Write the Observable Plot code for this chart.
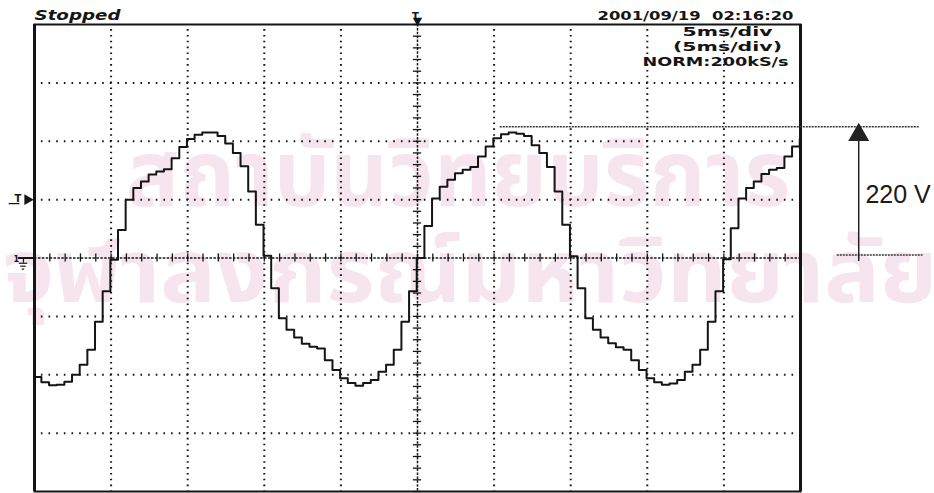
<!DOCTYPE html>
<html><head><meta charset="utf-8">
<script src="https://cdn.jsdelivr.net/npm/d3@7"></script>
<script src="https://cdn.jsdelivr.net/npm/@observablehq/plot@0.6"></script>
<style>body{margin:0;background:#fff}</style>
</head><body><div id="chart"></div>
<script>
// ---- data ----
const sampleStepMs = 0.5;      // staircase step duration
const firstSampleMs = -0.05;   // start time of first step
const voltage = [
  -204, -213, -218, -217, -212, -200, -183, -157, -109, -57,
  -3, 48, 100, 120, 131, 143, 148, 152, 171, 190, 204, 211, 215, 215, 209, 196, 180, 157, 114, 57,
  4, -52, -103, -123, -136, -147, -152, -155, -175, -192, -206, -214, -219, -214, -209, -195, -183, -157, -109, -57,
  0, 55, 102, 122, 134, 145, 151, 156, 174, 191, 205, 212, 215, 213, 209, 193, 180, 156, 114, 57,
  3, -52, -103, -123, -136, -146, -153, -157, -175, -192, -206, -213, -217, -215, -209, -195, -183, -157, -109, -57,
  -2, 51, 102, 120, 131, 144, 151, 154, 174, 191, 204
];
const timeGridMs = [5, 10, 15, 20, 30, 35, 40, 45];
const voltGrid = [-300, -200, -100, 100, 200, 300];
const centerTimeMs = 25;
const timeMinorMs = d3.range(0, 50.001, 1);
const voltMinor = d3.range(-400, 400.001, 20);
const headerLeft = "Stopped";
const headerRight = "2001/09/19  02:16:20";
const settings = ["5ms/div", "(5ms/div)", "NORM:200kS/s"];
const triggerLevel = 100;
const annotationLabel = "220 V";
const annotationVolts = 225;
const watermark = ["สถาบันวิทยบริการ", "จุฬาลงกรณ์มหาวิทยาลัย"];

const samples = voltage.map((v, i) => ({t: firstSampleMs + i * sampleStepMs, v}));
const ink = "#151515";
const hdrFont = "DejaVu Sans, sans-serif";
const wmFont = "Noto Sans Thai, Noto Sans, sans-serif";
const wmFill = "#f6e5ee";

const plot = Plot.plot({
  width: 934, height: 493,
  marginLeft: 34, marginRight: 134, marginTop: 24, marginBottom: 2,
  x: {domain: [0, 50], axis: null},
  y: {domain: [-400, 400], axis: null},
  style: {background: "#fff", overflow: "visible"},
  marks: [
    Plot.text([watermark[0]], {text: d => d, frameAnchor: "top-left", dx: 91, dy: 181, textAnchor: "start", lineAnchor: "bottom", fontSize: 92, fontWeight: "bold", fill: wmFill, fontFamily: wmFont}),
    Plot.text([watermark[1]], {text: d => d, frameAnchor: "top-left", dx: -32, dy: 277, textAnchor: "start", lineAnchor: "bottom", fontSize: 88, fontWeight: "bold", fill: wmFill, fontFamily: wmFont}),
    // grid
    Plot.ruleX(timeGridMs, {stroke: ink, strokeWidth: 2, strokeDasharray: "1.6 4.24", strokeDashoffset: 0.8}),
    Plot.ruleY(voltGrid, {stroke: ink, strokeWidth: 2, strokeDasharray: "1.6 6.06", strokeDashoffset: 0.8}),
    Plot.ruleX([centerTimeMs], {stroke: ink, strokeWidth: 1.5, strokeDasharray: "2.5 1.4"}),
    Plot.ruleY([0], {stroke: ink, strokeWidth: 1.5, strokeDasharray: "2.5 1.4"}),
    Plot.ruleX(timeMinorMs, {y1: -7, y2: 7, stroke: ink, strokeWidth: 1.3}),
    Plot.ruleY(voltMinor, {x1: centerTimeMs - 0.27, x2: centerTimeMs + 0.27, stroke: ink, strokeWidth: 1.3}),
    // frame
    Plot.frame({stroke: ink, strokeWidth: 2}),
    Plot.ruleX([0, 50], {stroke: ink, strokeWidth: 3}),
    // waveform
    Plot.line(samples, {x: "t", y: "v", curve: "step-after", stroke: ink, strokeWidth: 2, clip: true}),
    // header
    Plot.text([headerLeft], {text: d => d, frameAnchor: "top-left", dy: -5, textAnchor: "start", lineAnchor: "bottom", fontSize: 13.5, fontWeight: "bold", fontStyle: "italic", fontFamily: hdrFont, fill: ink}),
    Plot.text([headerRight], {text: d => d, frameAnchor: "top-right", dx: -7, dy: -5, textAnchor: "end", lineAnchor: "bottom", fontSize: 13, fontWeight: "bold", fontFamily: hdrFont, fill: ink}),
    Plot.text([settings[0]], {text: d => d, frameAnchor: "top-right", dx: -73, dy: 11, textAnchor: "middle", lineAnchor: "bottom", fontSize: 12, fontWeight: "bold", fontFamily: hdrFont, fill: ink}),
    Plot.text([settings[1]], {text: d => d, frameAnchor: "top-right", dx: -73, dy: 26, textAnchor: "middle", lineAnchor: "bottom", fontSize: 12, fontWeight: "bold", fontFamily: hdrFont, fill: ink}),
    Plot.text([settings[2]], {text: d => d, frameAnchor: "top-right", dx: -85, dy: 41, textAnchor: "middle", lineAnchor: "bottom", fontSize: 12, fontWeight: "bold", fontFamily: hdrFont, fill: ink}),
    // trigger marker (top)
    Plot.text(["T"], {x: centerTimeMs, text: d => d, frameAnchor: "top", dx: -2, dy: -12, fontSize: 10, fontWeight: "bold", fontFamily: hdrFont, fill: ink}),
    Plot.dot([centerTimeMs], {x: d => d, frameAnchor: "top", dy: -4, symbol: "triangle", rotate: 180, r: 3.5, fill: ink, stroke: "none"}),
    // trigger level marker (left)
    Plot.text(["T"], {y: triggerLevel, text: d => d, frameAnchor: "left", dx: -20, dy: -1, fontSize: 10, fontWeight: "bold", fontFamily: hdrFont, fill: ink}),
    Plot.ruleY([triggerLevel], {x1: -1.65, x2: -0.95, dy: 4, stroke: ink, strokeWidth: 1.2}),
    Plot.dot([triggerLevel], {y: d => d, frameAnchor: "left", dx: -7, symbol: "triangle", rotate: 90, r: 4, fill: ink, stroke: "none"}),
    // ground marker (left)
    Plot.text(["1"], {y: 0, text: d => d, frameAnchor: "left", dx: -21, dy: 1, fontSize: 8, fontWeight: "bold", fontFamily: hdrFont, fill: ink}),
    Plot.ruleY([0], {x1: -1.05, x2: 0, stroke: ink, strokeWidth: 2}),
    Plot.ruleX([-0.72], {y1: 0, y2: -9, stroke: ink, strokeWidth: 1.2}),
    Plot.ruleY([-9, -14, -19], {x1: (d, i) => [-1.0, -0.9, -0.8][i], x2: (d, i) => [-0.44, -0.54, -0.64][i], stroke: ink, strokeWidth: 1.2}),
    // 220 V annotation
    Plot.ruleY([annotationVolts], {x1: 30.4, x2: 57.8, stroke: "#333", strokeWidth: 1.5, strokeDasharray: "2 1"}),
    Plot.ruleY([5], {x1: 52.4, x2: 58.0, stroke: "#333", strokeWidth: 1.5, strokeDasharray: "2 1"}),
    Plot.ruleX([53.8], {y1: -6, y2: 212, stroke: "#222", strokeWidth: 1.5}),
    Plot.dot([annotationVolts], {x: () => 53.8, y: d => d - 14, symbol: "triangle", r: 7.8, fill: "#222", stroke: "none"}),
    Plot.text([annotationLabel], {x: () => 54.24, y: () => 108.5, text: d => d, textAnchor: "start", fontSize: 25, fontFamily: "Liberation Sans, Arial, sans-serif", fill: "#1a1a1a"})
  ]
});
document.getElementById("chart").appendChild(plot);

// fit oscilloscope / watermark text widths to the reference
const widths = new Map([
  [watermark[0], 665], [watermark[1], 935],
  [headerLeft, 86], [headerRight, 196],
  [settings[0], 90], [settings[1], 109], [settings[2], 146]
]);
plot.querySelectorAll("text").forEach(el => {
  const w = widths.get(el.textContent);
  if (w) { el.setAttribute("textLength", w); el.setAttribute("lengthAdjust", "spacingAndGlyphs"); }
});
</script>
</body></html>
